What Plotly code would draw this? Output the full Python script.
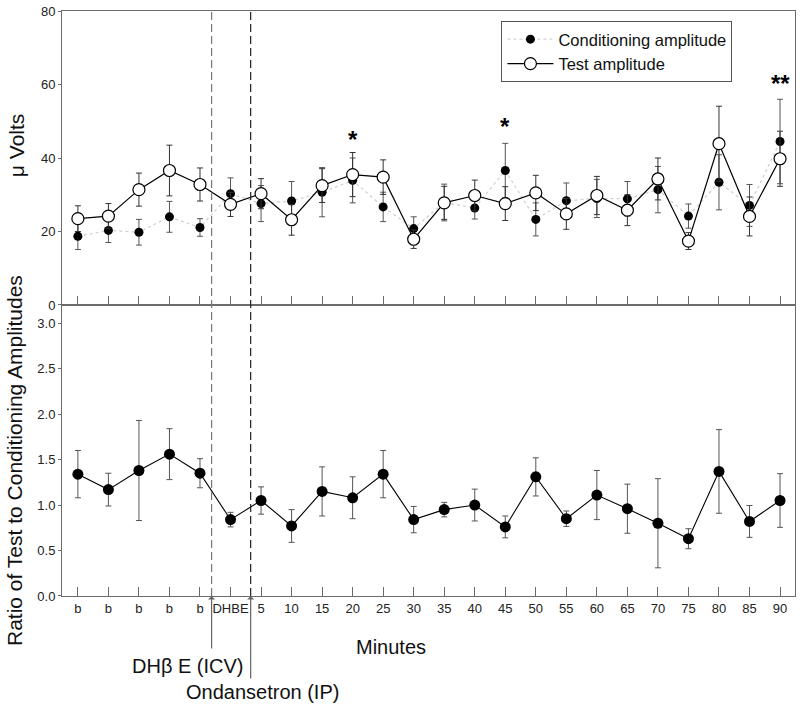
import plotly.graph_objects as go

# time points: 5 baselines, DHbE injection, then minutes after ondansetron
x_labels = ["b", "b", "b", "b", "b", "DHBE", "5", "10", "15", "20", "25", "30", "35", "40",
            "45", "50", "55", "60", "65", "70", "75", "80", "85", "90"]

cond_amp = [18.7, 20.3, 19.8, 24.0, 21.1, 30.3, 27.6, 28.3, 30.7, 33.9, 26.7, 20.8,
            27.9, 26.4, 36.6, 23.3, 28.4, 29.0, 28.9, 31.4, 24.2, 33.4, 27.1, 44.5]
cond_err = [3.6, 3.3, 3.5, 4.2, 2.4, 4.3, 4.9, 5.3, 6.7, 6.1, 4.0, 3.2,
            5.0, 3.0, 7.4, 4.5, 4.8, 5.2, 4.7, 6.3, 3.3, 7.5, 5.7, 11.5]

test_amp = [23.5, 24.2, 31.4, 36.6, 32.8, 27.4, 30.3, 23.2, 32.5, 35.5, 34.8, 17.9,
            27.8, 29.8, 27.6, 30.5, 24.8, 29.8, 25.8, 34.3, 17.4, 43.9, 24.1, 39.8]
test_err = [3.5, 3.4, 4.5, 6.9, 4.5, 3.3, 4.1, 4.2, 4.6, 6.0, 4.7, 2.5,
            4.5, 4.2, 4.6, 4.8, 4.2, 5.2, 4.2, 5.7, 2.3, 10.2, 5.3, 7.5]

ratio = [1.34, 1.17, 1.38, 1.56, 1.35, 0.84, 1.05, 0.77, 1.15, 1.08, 1.34, 0.84,
         0.95, 1.00, 0.76, 1.31, 0.85, 1.11, 0.96, 0.80, 0.63, 1.37, 0.82, 1.05]
ratio_err = [0.26, 0.18, 0.55, 0.28, 0.16, 0.08, 0.15, 0.18, 0.27, 0.23, 0.26, 0.145,
             0.08, 0.175, 0.12, 0.21, 0.085, 0.27, 0.27, 0.49, 0.11, 0.46, 0.175, 0.295]

# significance marks (index, label, height)
stars = [(9, "*", 45.0), (14, "*", 48.6), (23, "**", 60.3)]

# injection times drawn as dashed lines (in x index units)
dhbe_at = 4.38
ond_at = 5.66

xs = list(range(len(x_labels)))
axis_col = "#6b6b6b"
err_col = "#555555"
font_fam = "Arial, Liberation Sans, sans-serif"

fig = go.Figure()

fig.add_trace(go.Scatter(
    x=xs, y=cond_amp, xaxis="x2", yaxis="y2", name="Conditioning amplitude",
    mode="lines+markers",
    line=dict(color="#d2d2d2", width=1.3, dash="dot"),
    marker=dict(color="black", size=9, line=dict(width=0)),
    error_y=dict(type="data", array=cond_err, color=err_col, thickness=1, width=3),
))
fig.add_trace(go.Scatter(
    x=xs, y=test_amp, xaxis="x2", yaxis="y2", name="Test amplitude",
    mode="lines+markers",
    line=dict(color="black", width=1.2),
    marker=dict(color="white", size=12, line=dict(color="black", width=1.2)),
    error_y=dict(type="data", array=test_err, color="#333333", thickness=1, width=3),
))
fig.add_trace(go.Scatter(
    x=xs, y=ratio, xaxis="x", yaxis="y", showlegend=False,
    mode="lines+markers",
    line=dict(color="black", width=1.1),
    marker=dict(color="black", size=11),
    error_y=dict(type="data", array=ratio_err, color=err_col, thickness=1, width=3),
))

split = 293 / 589

common_x = dict(range=[-0.52, 23.49], showgrid=False, zeroline=False, showline=True,
                linecolor=axis_col, linewidth=1, mirror=True, ticks="inside",
                ticklen=9, tickcolor=axis_col, tickvals=xs)
common_y = dict(showgrid=False, zeroline=False, showline=True, linecolor=axis_col,
                mirror=True, ticks="outside", ticklen=3, tickcolor=axis_col,
                ticklabeloverflow="allow")

fig.update_layout(
    width=800, height=707,
    margin=dict(l=62, r=4, t=7, b=111),
    paper_bgcolor="white", plot_bgcolor="white",
    font=dict(family=font_fam, size=13, color="#222222"),
    xaxis=dict(common_x, domain=[0, 1], ticktext=x_labels, anchor="y",
               tickfont=dict(size=13)),
    xaxis2=dict(common_x, domain=[0, 1], showticklabels=False, anchor="y2",
                matches="x"),
    yaxis=dict(common_y, domain=[0, split], range=[0, 3.2],
               tickvals=[0, 0.5, 1, 1.5, 2, 2.5, 3], tickformat=".1f", anchor="x"),
    yaxis2=dict(common_y, domain=[split, 1], range=[0, 80.02],
                tickvals=[0, 20, 40, 60, 80], anchor="x2"),
    legend=dict(x=0.5995, y=0.983, xanchor="left", yanchor="top",
                bordercolor="#555555", borderwidth=1, bgcolor="white",
                font=dict(size=16.5, color="#111111"), itemwidth=46),
    showlegend=True,
)

# dashed injection lines through both panels
for pos, col in [(dhbe_at, "#777777"), (ond_at, "#222222")]:
    fig.add_shape(type="line", xref="x", yref="paper", x0=pos, x1=pos, y0=0, y1=1,
                  line=dict(color=col, width=1.2, dash="8px,4px"))

# arrows under the axis
fig.add_annotation(x=dhbe_at, y=0, xref="x", yref="y", ax=0, ay=54, text="",
                   showarrow=True, arrowhead=1, arrowsize=1, arrowwidth=1.2,
                   arrowcolor="#666666")
fig.add_annotation(x=ond_at, y=0, xref="x", yref="y", ax=0, ay=84, text="",
                   showarrow=True, arrowhead=1, arrowsize=1, arrowwidth=1.2,
                   arrowcolor="#666666")


def paper_note(px, py, text, size=20, angle=0):
    # place text by its pixel centre on the 800x707 page
    fig.add_annotation(x=(px - 62) / 734, y=(596 - py) / 589, xref="paper", yref="paper",
                       xanchor="center", yanchor="middle", text=text, textangle=angle,
                       showarrow=False, font=dict(size=size, color="#111111"))


paper_note(188, 666, "DHβ E (ICV)")
paper_note(263, 693, "Ondansetron (IP)")
paper_note(391, 647, "Minutes")
paper_note(16, 143, "μ Volts", size=21, angle=-90)
paper_note(15, 460, "Ratio of Test to Conditioning Amplitudes", size=21, angle=-90)

for i, txt, h in stars:
    fig.add_annotation(x=i, y=h, xref="x2", yref="y2", text="<b>" + txt + "</b>",
                       showarrow=False, font=dict(size=24, color="black"))

fig.write_html("out.html", config={"displayModeBar": False},
               post_script="document.body.style.margin='0px';")
